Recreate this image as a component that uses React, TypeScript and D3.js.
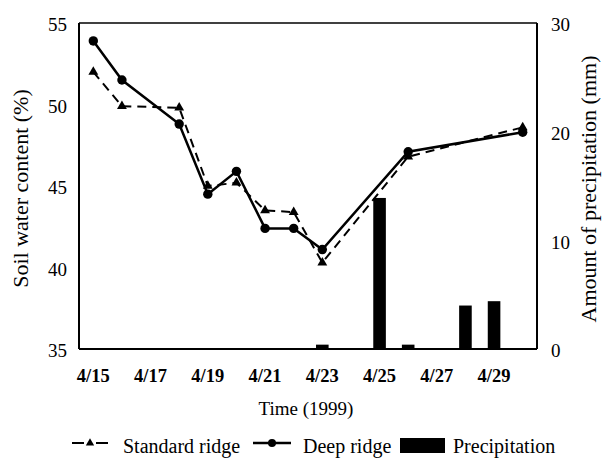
import React from "react";
import * as d3 from "d3";

const days = ["4/15","4/16","4/17","4/18","4/19","4/20","4/21","4/22","4/23","4/24","4/25","4/26","4/27","4/28","4/29","4/30"];
const xTickLabels = ["4/15","4/17","4/19","4/21","4/23","4/25","4/27","4/29"];
const leftTicks = [35, 40, 45, 50, 55];
const rightTicks = [0, 10, 20, 30];

const seriesDates = ["4/15","4/16","4/18","4/19","4/20","4/21","4/22","4/23","4/26","4/30"];
const standardRidge = [52.0, 49.9, 49.8, 45.0, 45.2, 43.5, 43.4, 40.3, 46.8, 48.6];
const deepRidge = [53.9, 51.5, 48.8, 44.5, 45.9, 42.4, 42.4, 41.1, 47.1, 48.3];

const precipDates = ["4/23","4/25","4/26","4/28","4/29"];
const precipitation = [0.4, 13.9, 0.4, 4.0, 4.4];

const FONT = "'Liberation Serif', 'Times New Roman', serif";

export default function App() {
  const W = 605, H = 460;
  const left = 79, right = 537, top = 23, bottom = 349;

  const x = d3.scaleBand<string>().domain(days).range([left, right]).padding(0);
  const cx = (d: string) => (x(d) as number) + x.bandwidth() / 2;
  const yL = d3.scaleLinear().domain([35, 55]).range([bottom, top]);
  const yR = d3.scaleLinear().domain([0, 30]).range([bottom, top]);
  const barW = x.bandwidth() * 0.44;

  const stdPts = seriesDates.map((d, i) => [cx(d), yL(standardRidge[i])] as [number, number]);
  const deepPts = seriesDates.map((d, i) => [cx(d), yL(deepRidge[i])] as [number, number]);
  const line = d3.line<[number, number]>();
  const tri = d3.symbol().type(d3.symbolTriangle).size(42)();
  const triSmall = d3.symbol().type(d3.symbolTriangle).size(30)();

  return (
    <svg width={W} height={H} style={{ position: "absolute", left: 0, top: 0 }} fontFamily={FONT}>
      <rect x={0} y={0} width={W} height={H} fill="#fff" />
      {/* bars */}
      {precipDates.map((d, i) => (
        <rect key={d} x={cx(d) - barW / 2} y={yR(precipitation[i])} width={barW}
          height={bottom - yR(precipitation[i])} fill="#000" />
      ))}
      {/* frame */}
      <line x1={left} y1={top} x2={right} y2={top} stroke="#000" strokeWidth={1.5} />
      <line x1={left} y1={top} x2={left} y2={bottom} stroke="#000" strokeWidth={2} />
      <line x1={right} y1={top} x2={right} y2={bottom} stroke="#000" strokeWidth={2} />
      <line x1={left} y1={bottom} x2={right} y2={bottom} stroke="#000" strokeWidth={2} />
      {/* left ticks */}
      {leftTicks.map(t => (
        <text key={t} x={67} y={yL(t) + 8.4} textAnchor="end" fontSize={19}>{t}</text>
      ))}
      {rightTicks.map(t => (
        <text key={t} x={551} y={yR(t) + 8.4} textAnchor="start" fontSize={19}>{t}</text>
      ))}
      {xTickLabels.map(t => (
        <text key={t} x={cx(t)} y={382} textAnchor="middle" fontSize={18.5} fontWeight="bold">{t}</text>
      ))}
      {/* series */}
      <path d={line(stdPts) || ""} fill="none" stroke="#000" strokeWidth={2} strokeDasharray="9,6" />
      {stdPts.map((p, i) => (
        <path key={i} d={tri || ""} transform={`translate(${p[0]},${p[1]})`} fill="#000" />
      ))}
      <path d={line(deepPts) || ""} fill="none" stroke="#000" strokeWidth={2.5} />
      {deepPts.map((p, i) => (
        <circle key={i} cx={p[0]} cy={p[1]} r={4.7} fill="#000" />
      ))}
      {/* axis titles */}
      <text transform={`translate(28,188.5) rotate(-90)`} textAnchor="middle" fontSize={22}>Soil water content (%)</text>
      <text transform={`translate(596,189) rotate(-90)`} textAnchor="middle" fontSize={22}>Amount of precipitation (mm)</text>
      <text x={306} y={415} textAnchor="middle" fontSize={19}>Time (1999)</text>
      {/* legend */}
      <line x1={72} y1={443} x2={84} y2={443} stroke="#000" strokeWidth={2} />
      <line x1={96} y1={443} x2={108} y2={443} stroke="#000" strokeWidth={2} />
      <path d={triSmall || ""} transform="translate(90,443)" fill="#000" />
      <text x={123} y={453} fontSize={20}>Standard ridge</text>
      <line x1={253} y1={443} x2={291} y2={443} stroke="#000" strokeWidth={2.5} />
      <circle cx={272} cy={443} r={4} fill="#000" />
      <text x={303} y={453} fontSize={20}>Deep ridge</text>
      <rect x={400} y={438} width={45} height={15} fill="#000" />
      <text x={453} y={453} fontSize={20}>Precipitation</text>
    </svg>
  );
}
